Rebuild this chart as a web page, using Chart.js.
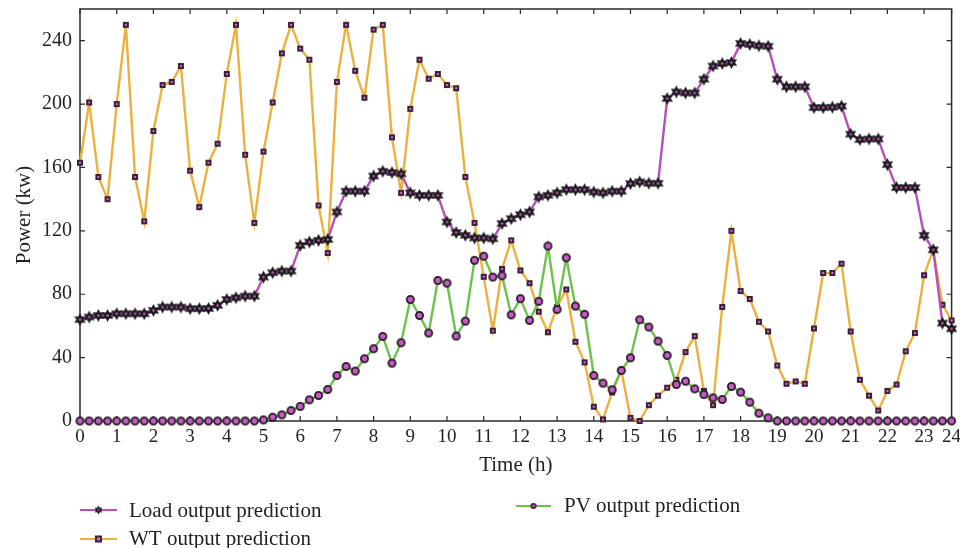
<!DOCTYPE html>
<html><head><meta charset="utf-8">
<script src="https://cdn.jsdelivr.net/npm/chart.js@4.4.1/dist/chart.umd.min.js"></script>
<style>html,body{margin:0;padding:0;background:#fff;} #wrap{position:relative;width:960px;height:548px;}</style>
</head><body><div id="wrap"><canvas id="c" width="960" height="548"></canvas></div>
<script>
// ---- data (15-min resolution, 96 samples from 0 h to 23.75 h) ----
const loadPred = [
  64, 65.6, 66.6, 66.6, 67.7, 67.7, 67.7, 67.7,
  69.8, 71.9, 71.9, 71.9, 70.9, 70.9, 71, 73,
  76.7, 77.8, 78.8, 78.8, 90.8, 93.6, 94.6, 94.6,
  110.8, 113, 114, 114.5, 131.9, 145, 145, 145,
  154.6, 157.6, 156.8, 156, 144, 142.4, 142.4, 142.4,
  125.6, 118.9, 117.2, 115.5, 115.5, 115, 124.6, 127.7,
  130.2, 131.9, 141.4, 142.4, 144, 146, 146, 146,
  144.5, 144, 145, 145, 149.8, 150.9, 150, 150,
  203.5, 207.7, 207, 207, 215.7, 224, 225.6, 226.2,
  238.3, 237.6, 236.8, 236.5, 215.7, 210.9, 210.9, 210.9,
  197.8, 197.8, 198, 198.7, 181, 177.6, 178, 178,
  161.8, 147.3, 147.3, 147.3, 117.2, 108, 61.8, 58.2
];
const wtPred = [
  163, 201, 154, 140, 200, 250, 154, 126,
  183, 212, 214, 224, 158, 135, 163, 175,
  219, 250, 168, 125, 170, 201, 232, 250,
  235, 228, 136, 106, 214, 250, 221, 204,
  247, 250, 179, 144, 197, 228, 216, 219,
  212, 210, 154, 125, 91, 57, 96, 114,
  95, 87, 69, 56, 72, 83, 50, 37,
  9, 1, 18, 32, 2, 0, 10, 16,
  21, 26, 43.5, 53.6, 19, 10, 72, 120,
  82, 77, 62.6, 56.5, 35, 23.5, 25, 23.5,
  58.4, 93.4, 93.4, 99.3, 56.5, 26, 16, 6.6,
  19, 23, 44, 55.5, 92, 108, 73.4, 63.5
];
const pvPred = [
  0, 0, 0, 0, 0, 0, 0, 0,
  0, 0, 0, 0, 0, 0, 0, 0,
  0, 0, 0, 0, 0.7, 2.4, 3.9, 6.6,
  9.2, 13.4, 16.1, 19.9, 28.7, 34.4, 31.5, 39.3,
  45.6, 53.4, 36.5, 49.4, 76.7, 66.6, 55.5, 88.7,
  87, 53.6, 63, 101.4, 104, 90.8, 91.7, 67,
  77.2, 63.5, 75.5, 110.4, 70.4, 103, 72.5, 67.3,
  28.7, 23.9, 19.7, 31.9, 39.9, 63.9, 59.3, 50.4,
  41.4, 23, 25.1, 20.3, 16.7, 14.6, 13.6, 21.8,
  18.2, 11.9, 4.9, 2, 0, 0, 0, 0,
  0, 0, 0, 0, 0, 0, 0, 0,
  0, 0, 0, 0, 0, 0, 0, 0
];
const seriesNames = ['Load output prediction', 'WT output prediction', 'PV output prediction'];
const xTickLabels = ['0','1','2','3','4','5','6','7','8','9','10','11','12','13','14','15','16','17','18','19','20','21','22','23','24'];
const yTickValues = [0, 40, 80, 120, 160, 200, 240];

// time of each sample (hours)
const hours = loadPred.map((_, i) => i / 4);
const lastHour = hours[hours.length - 1];
const xTickPos = xTickLabels.map((l, i) => i < xTickLabels.length - 1 ? Number(l) : lastHour);

const SERIF = "'Liberation Serif', 'DejaVu Serif', serif";
const COL = { load: '#b550b5', wt: '#ebb13e', pv: '#6cc24a', text: '#231f20', axis: '#2a2a2a' };

function mk(size){ const c=document.createElement('canvas'); c.width=c.height=size; return c; }
function starImg(r){
  const s=Math.ceil(r*2+2), c=mk(s), g=c.getContext('2d'), m=s/2;
  g.beginPath();
  for(let i=0;i<12;i++){ const a=-Math.PI/2+i*Math.PI/6, rr=i%2? r*0.55 : r; g.lineTo(m+rr*Math.cos(a), m+rr*Math.sin(a)); }
  g.closePath(); g.fillStyle='#1b1b1b'; g.fill();
  g.beginPath(); g.arc(m,m,Math.max(1,r*0.2),0,Math.PI*2); g.fillStyle='#c75ac7'; g.fill();
  return c;
}
function squareImg(a){
  const s=a+2, c=mk(s), g=c.getContext('2d');
  g.fillStyle='#3b2139'; g.fillRect(1,1,a,a);
  const b=Math.max(2,Math.round(a*0.4)); g.fillStyle='#d468d4'; g.fillRect(1+(a-b)/2,1+(a-b)/2,b,b);
  return c;
}
function circleImg(r, lw){
  const s=Math.ceil(r*2+lw+2), c=mk(s), g=c.getContext('2d'), m=s/2;
  g.beginPath(); g.arc(m,m,r,0,Math.PI*2); g.fillStyle='#c45cc4'; g.fill();
  g.lineWidth=lw; g.strokeStyle='#2a1a2a'; g.stroke();
  return c;
}
const starM = starImg(6.5), squareM = squareImg(6), circleM = circleImg(3.6, 1.8);
const starL = starImg(4.5), squareL = squareImg(7), circleL = circleImg(2.2, 1.6);

const pts = arr => arr.map((v, i) => ({ x: hours[i], y: v }));

const framePlugin = {
  id: 'frame',
  beforeDatasetsDraw(chart){
    const { ctx, chartArea: { left, right, top, bottom }, scales: { x, y } } = chart;
    ctx.save();
    ctx.strokeStyle = COL.axis; ctx.lineWidth = 1.5;
    ctx.strokeRect(left, top, right - left, bottom - top);
    ctx.lineWidth = 1.2; ctx.beginPath();
    x.ticks.forEach(t => { const p = x.getPixelForValue(t.value); ctx.moveTo(p, bottom); ctx.lineTo(p, bottom - 5); ctx.moveTo(p, top); ctx.lineTo(p, top + 5); });
    y.ticks.forEach(t => { const p = y.getPixelForValue(t.value); ctx.moveTo(left, p); ctx.lineTo(left + 5, p); ctx.moveTo(right, p); ctx.lineTo(right - 5, p); });
    ctx.stroke(); ctx.restore();
  }
};

const legendPlugin = {
  id: 'customLegend',
  afterDraw(chart){
    const ctx = chart.ctx;
    const items = [
      { name: seriesNames[0], color: COL.load, img: starL, x0: 80, x1: 117, ly: 510, tx: 129, ty: 517 },
      { name: seriesNames[1], color: COL.wt, img: squareL, x0: 80, x1: 117, ly: 539, tx: 129, ty: 545 },
      { name: seriesNames[2], color: COL.pv, img: circleL, x0: 516, x1: 551, ly: 506, tx: 564, ty: 512 }
    ];
    ctx.save();
    items.forEach(it => {
      ctx.strokeStyle = it.color; ctx.lineWidth = 2.2;
      ctx.beginPath(); ctx.moveTo(it.x0, it.ly); ctx.lineTo(it.x1, it.ly); ctx.stroke();
      const mx = (it.x0 + it.x1) / 2;
      ctx.drawImage(it.img, mx - it.img.width / 2, it.ly - it.img.height / 2);
      ctx.fillStyle = COL.text; ctx.font = '21px ' + SERIF; ctx.textBaseline = 'alphabetic'; ctx.textAlign = 'left';
      ctx.fillText(it.name, it.tx, it.ty);
    });
    ctx.restore();
  }
};

new Chart(document.getElementById('c'), {
  type: 'line',
  data: {
    datasets: [
      { label: seriesNames[0], data: pts(loadPred), borderColor: COL.load, borderWidth: 2.4, pointStyle: starM, pointRadius: 6, order: 0, clip: false, tension: 0 },
      { label: seriesNames[1], data: pts(wtPred), borderColor: COL.wt, borderWidth: 2.4, pointStyle: squareM, pointRadius: 4, order: 2, clip: false, tension: 0 },
      { label: seriesNames[2], data: pts(pvPred), borderColor: COL.pv, borderWidth: 2.4, pointStyle: circleM, pointRadius: 4, order: 1, clip: false, tension: 0 }
    ]
  },
  options: {
    responsive: false, animation: false, devicePixelRatio: 1,
    layout: { padding: { top: 9, right: 7, left: 0, bottom: 0 } },
    plugins: { legend: { display: false }, tooltip: { enabled: false } },
    scales: {
      x: {
        type: 'linear', min: 0, max: lastHour,
        grid: { display: false, drawTicks: false }, border: { display: false },
        afterBuildTicks: s => { s.ticks = xTickPos.map(v => ({ value: v })); },
        afterFit: s => { s.height = 127; s.paddingLeft = 0; s.paddingRight = 0; },
        ticks: { autoSkip: false, maxRotation: 0, padding: 5, color: COL.text, font: { family: SERIF, size: 19 },
          callback: (v, i) => xTickLabels[i] },
        title: { display: true, text: 'Time (h)', color: COL.text, font: { family: SERIF, size: 21 }, padding: { top: 0, bottom: 70 } }
      },
      y: {
        min: 0, max: 260,
        grid: { display: false, drawTicks: false }, border: { display: false },
        afterBuildTicks: s => { s.ticks = yTickValues.map(v => ({ value: v })); },
        afterFit: s => { s.width = 80; s.paddingTop = 0; s.paddingBottom = 0; },
        ticks: { padding: 8, color: COL.text, font: { family: SERIF, size: 20 } },
        title: { display: true, text: 'Power (kw)', color: COL.text, font: { family: SERIF, size: 21 }, padding: { top: 12, bottom: 0 } }
      }
    }
  },
  plugins: [framePlugin, legendPlugin]
});
</script></body></html>
